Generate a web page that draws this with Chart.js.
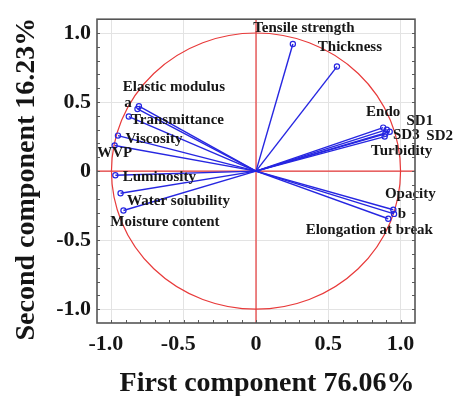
<!DOCTYPE html>
<html>
<head>
<meta charset="utf-8">
<script src="https://cdn.jsdelivr.net/npm/chart.js@4.4.1/dist/chart.umd.min.js"></script>
<style>
  html, body { margin: 0; padding: 0; background: #fff; }
  #wrap { width: 456px; height: 396px; }
</style>
</head>
<body>
<div id="wrap"><canvas id="c" width="456" height="396"></canvas></div>
<script>
// PCA loadings: first and second component for each variable
const variables = [
  'Tensile strength', 'Thickness', 'Endo', 'SD1', 'SD2', 'SD3', 'Turbidity',
  'Opacity', 'b', 'Elongation at break',
  'Elastic modulus', 'a', 'Transmittance', 'Viscosity', 'WVP',
  'Luminosity', 'Water solubility', 'Moisture content'
];
const pc1 = [0.255, 0.56, 0.88, 0.905, 0.925, 0.895, 0.89,
             0.95, 0.955, 0.915,
             -0.81, -0.82, -0.88, -0.955, -0.978,
             -0.973, -0.937, -0.917];
const pc2 = [0.92, 0.757, 0.315, 0.30, 0.285, 0.27, 0.25,
             -0.28, -0.31, -0.345,
             0.47, 0.45, 0.395, 0.257, 0.185,
             -0.03, -0.16, -0.285];

const tickValues = [-1, -0.5, 0, 0.5, 1];
const tickLabels = ['-1.0', '-0.5', '0', '0.5', '1.0'];
const xTitle = 'First component 76.06%';
const yTitle = 'Second component 16.23%';

// label placement relative to each loading point (pixels)
const labelOffsets = [
  [11, -15.5], [13, -19], [0, -15], [33, -9], [50, 4], [21, 1.5], [17, 15],
  [17, -16], [8, 0.5], [-19, 11.5],
  [35, -19.5], [-9.5, -6], [48.7, 3.3], [36, 3.4], [0, 7.3],
  [44, 2], [58, 7.6], [41.5, 12]
];

const SERIF = "'Liberation Serif', 'Times New Roman', serif";
const BLUE = 'rgb(38,38,225)';
const RED = 'rgb(232,58,58)';
const INK = '#151515';

const datasets = variables.map((name, i) => ({
  label: name,
  data: [{ x: 0, y: 0 }, { x: pc1[i], y: pc2[i] }],
  showLine: true,
  borderColor: BLUE,
  borderWidth: 1.4,
  pointRadius: [0, 2.6],
  pointHoverRadius: [0, 2.6],
  pointBorderColor: BLUE,
  pointBackgroundColor: 'rgba(255,255,255,0)',
  pointBorderWidth: 1.2
}));

// red reference axes and unit circle, under the vectors
const referencePlugin = {
  id: 'reference',
  beforeDatasetsDraw(chart) {
    const { ctx, chartArea: a, scales: { x, y } } = chart;
    ctx.save();
    ctx.strokeStyle = RED;
    ctx.lineWidth = 1.2;
    ctx.beginPath();
    const x0 = x.getPixelForValue(0), y0 = y.getPixelForValue(0);
    ctx.moveTo(x0, a.top); ctx.lineTo(x0, a.bottom);
    ctx.moveTo(a.left, y0); ctx.lineTo(a.right, y0);
    ctx.stroke();
    const rx = x.getPixelForValue(1) - x0;
    const ry = y0 - y.getPixelForValue(1);
    ctx.beginPath();
    ctx.ellipse(x0, y0, rx, ry, 0, 0, Math.PI * 2);
    ctx.stroke();
    ctx.restore();
  }
};

// variable names, frame, minor tick marks and axis titles on top
const overlayPlugin = {
  id: 'overlay',
  afterDatasetsDraw(chart) {
    const { ctx, chartArea: a, scales: { x, y } } = chart;
    ctx.save();
    ctx.font = 'bold 15px ' + SERIF;
    ctx.fillStyle = '#161616';
    ctx.textAlign = 'center';
    ctx.textBaseline = 'middle';
    variables.forEach((name, i) => {
      const pt = chart.getDatasetMeta(i).data[1];
      ctx.fillText(name, pt.x + labelOffsets[i][0], pt.y + labelOffsets[i][1]);
    });

    ctx.strokeStyle = '#5a5a5a';
    ctx.lineWidth = 1;
    ctx.beginPath();
    for (let k = -10; k <= 10; k++) {
      const v = k / 10;
      const px = Math.round(x.getPixelForValue(v)) + 0.5;
      const py = Math.round(y.getPixelForValue(v)) + 0.5;
      ctx.moveTo(px, a.bottom); ctx.lineTo(px, a.bottom - 3);
      ctx.moveTo(a.right, py); ctx.lineTo(a.right - 3, py);
      ctx.moveTo(a.left, py); ctx.lineTo(a.left + 3, py);
    }
    ctx.stroke();

    ctx.strokeStyle = '#555';
    ctx.lineWidth = 1.6;
    ctx.strokeRect(a.left, a.top, a.right - a.left, a.bottom - a.top);

    // axis titles
    ctx.fillStyle = INK;
    ctx.font = 'bold 28px ' + SERIF;
    ctx.textAlign = 'center';
    ctx.textBaseline = 'alphabetic';
    ctx.fillText(xTitle, (a.left + a.right) / 2 + 11, 391);
    ctx.translate(34, (a.top + a.bottom) / 2 + 8);
    ctx.rotate(-Math.PI / 2);
    ctx.fillText(yTitle, 0, 0);
    ctx.restore();
  }
};

const tickFont = { family: SERIF, size: 22, weight: 'bold' };

new Chart(document.getElementById('c'), {
  type: 'scatter',
  data: { datasets },
  options: {
    responsive: false,
    devicePixelRatio: 1,
    animation: false,
    events: [],
    layout: { padding: { left: 0, right: 41, top: 15, bottom: 0 } },
    plugins: { legend: { display: false }, tooltip: { enabled: false } },
    scales: {
      x: {
        type: 'linear',
        position: 'bottom',
        min: -1.1,
        max: 1.1,
        afterFit(s) { s.height = 73; },
        afterBuildTicks(s) { s.ticks = tickValues.map(v => ({ value: v })); },
        grid: { color: '#e3e3e3', lineWidth: 1, drawTicks: false },
        border: { display: false },
        ticks: {
          font: tickFont,
          color: INK,
          padding: 8,
          maxRotation: 0,
          // negative labels hang their minus sign to the left of the tick
          callback: (v, i) => tickLabels[i] + (tickValues[i] < 0 ? '\u2002' : '')
        }
      },
      y: {
        type: 'linear',
        min: -1.1,
        max: 1.1,
        afterFit(s) { s.width = 97; },
        afterBuildTicks(s) { s.ticks = tickValues.map(v => ({ value: v })); },
        grid: { color: '#e3e3e3', lineWidth: 1, drawTicks: false },
        border: { display: false },
        ticks: {
          font: tickFont,
          color: INK,
          padding: 6,
          callback: (v, i) => tickLabels[i]
        }
      }
    }
  },
  plugins: [referencePlugin, overlayPlugin]
});
</script>
</body>
</html>
